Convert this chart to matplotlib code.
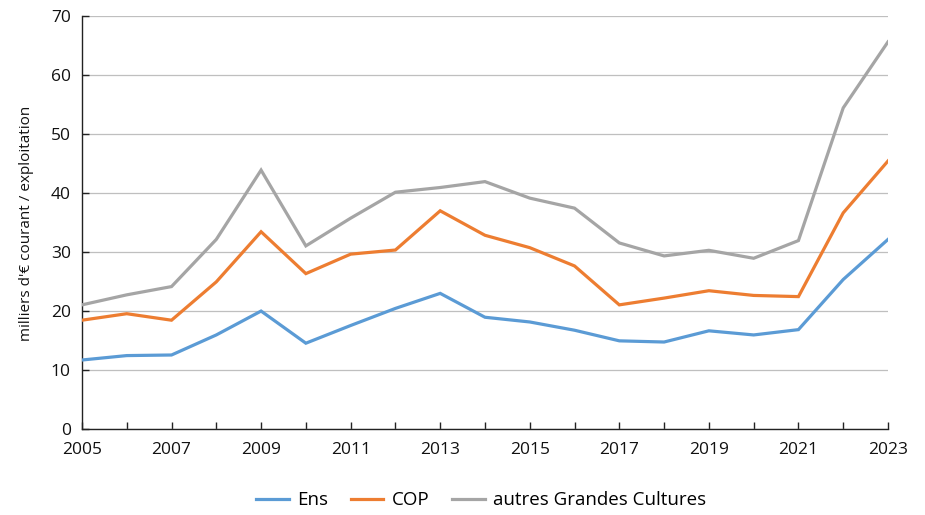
import numpy as np
import matplotlib
matplotlib.use('Agg')
import matplotlib.pyplot as plt

plt.rcParams['font.family'] = ['Open Sans', 'DejaVu Sans']

# données (milliers d'€ courant / exploitation)
years = list(range(2005, 2024))
ens = [11.75, 12.5, 12.6, 16.0, 20.05, 14.6, 17.6, 20.5, 23.05, 19.0,
       18.2, 16.8, 15.0, 14.8, 16.7, 16.0, 16.9, 25.4, 32.2]
cop = [18.5, 19.6, 18.5, 25.0, 33.5, 26.4, 29.7, 30.4, 37.05, 32.9,
       30.8, 27.7, 21.1, 22.25, 23.5, 22.7, 22.5, 36.7, 45.5]
autres_gc = [21.1, 22.8, 24.2, 32.2, 43.95, 31.1, 35.8, 40.2, 41.0, 42.0,
             39.2, 37.5, 31.6, 29.4, 30.35, 29.0, 32.0, 54.5, 65.7]
series_names = ['Ens', 'COP', 'autres Grandes Cultures']
series_colors = ['#5B9BD5', '#ED7D31', '#A5A5A5']

fig = plt.figure(figsize=(9.25, 5.15), dpi=100)
ax = fig.add_axes([0.0886, 0.1664, 0.8714, 0.8016])

for vals, name, col in zip([ens, cop, autres_gc], series_names, series_colors):
    ax.plot(years, vals, color=col, linewidth=2.3, label=name,
            solid_joinstyle='miter', zorder=3)

ax.set_xlim(2005, 2023)
ax.set_ylim(0, 70)
ax.set_yticks(np.arange(0, 71, 10))
ax.set_xticks(years)
ax.set_xticklabels([str(y) if (y - 2005) % 2 == 0 else '' for y in years])

ax.grid(axis='y', color='#BFBFBF', linewidth=0.9, zorder=0)
for s in ['top', 'right']:
    ax.spines[s].set_visible(False)
for s in ['left', 'bottom']:
    ax.spines[s].set_color('#222222')
    ax.spines[s].set_linewidth(1.0)
ax.tick_params(axis='both', direction='in', length=5, width=1.0,
               color='#222222', labelsize=12.5, labelcolor='#111111')
ax.tick_params(axis='x', pad=9)
ax.tick_params(axis='y', pad=8)

ax.set_ylabel("milliers d'€ courant / exploitation", fontsize=11,
              color='#111111', labelpad=12)

fig.legend(loc='lower center', bbox_to_anchor=(0.52, -0.022), ncol=3,
           frameon=False, fontsize=13.5, handlelength=1.75, columnspacing=1.2,
           handletextpad=0.45)

fig.savefig('out.png', dpi=100)
